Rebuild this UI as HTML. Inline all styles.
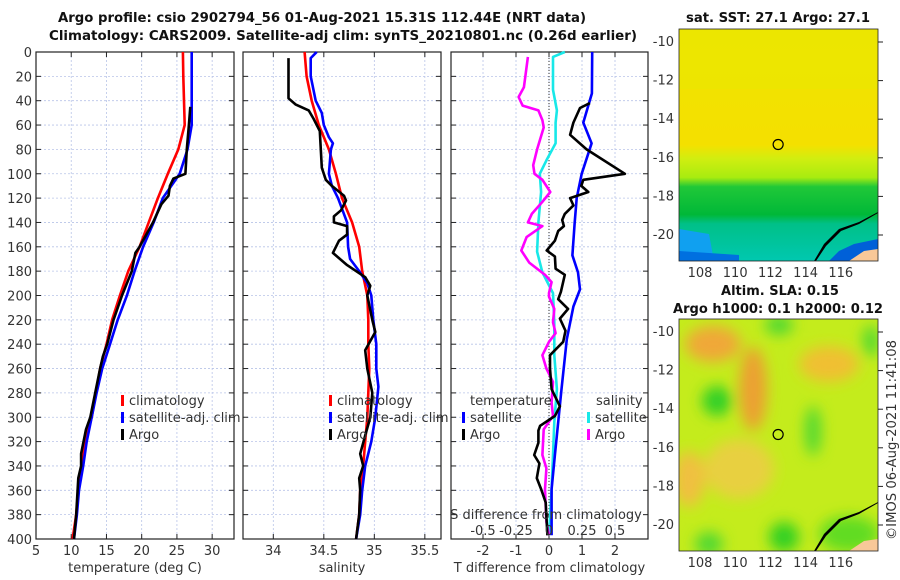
<!DOCTYPE html>
<html><head><meta charset="utf-8"><style>
body{margin:0;background:#fff;}
svg{display:block;font-family:"DejaVu Sans","Liberation Sans",sans-serif;}
.t{font-size:13px;font-weight:bold;fill:#111;text-anchor:middle}
.tk{font-size:13px;fill:#333}
</style></head><body>
<svg id="c" width="900" height="580" viewBox="0 0 900 580">
<text class="t" x="322" y="22" textLength="528" lengthAdjust="spacingAndGlyphs">Argo profile: csio 2902794_56 01-Aug-2021 15.31S 112.44E (NRT data)</text>
<text class="t" x="343" y="40" textLength="588" lengthAdjust="spacingAndGlyphs">Climatology: CARS2009. Satellite-adj clim: synTS_20210801.nc (0.26d earlier)</text>
<g id="maps">
<text class="t" x="778" y="22" textLength="184" lengthAdjust="spacingAndGlyphs">sat. SST: 27.1 Argo: 27.1</text>
<svg x="679" y="29" width="199" height="232">
<defs><linearGradient id="sg" x1="0" y1="0" x2="0" y2="1">
<stop offset="0" stop-color="#f0e400"/><stop offset="0.5" stop-color="#f4e000"/><stop offset="0.56" stop-color="#d0ee10"/><stop offset="0.64" stop-color="#a8ec10"/><stop offset="0.68" stop-color="#20c838"/><stop offset="0.8" stop-color="#00b838"/><stop offset="0.84" stop-color="#00c088"/><stop offset="1" stop-color="#00c8b0"/></linearGradient></defs>
<rect width="199" height="232" fill="url(#sg)"/>
<rect x="0" y="0" width="199" height="60" fill="#e4ea00" opacity="0.35"/>
<path d="M0,200 L30,205 L35,232 L0,232Z" fill="#10a0f0"/>
<path d="M0,222 L60,226 L60,232 L0,232Z" fill="#0070e0"/>
<path d="M150,232 L160,222 L175,215 L199,210 L199,232Z" fill="#0060d8"/>
<path d="M135,232 L145,215 L160,200 L180,193 L199,183 L199,184 L180,195 L162,202 L147,217 L137,232Z" fill="#000"/>
<path d="M170,232 L185,222 L199,220 L199,232Z" fill="#f8c898"/>
</svg>
<text class="t" x="780" y="295">Altim. SLA: 0.15</text>
<text class="t" x="778" y="313" textLength="210" lengthAdjust="spacingAndGlyphs">Argo h1000: 0.1 h2000: 0.12</text>
<svg x="679" y="319" width="199" height="232">
<defs><filter id="bl"><feGaussianBlur stdDeviation="7"/></filter></defs>
<rect width="199" height="232" fill="#c4ec1c"/>
<g filter="url(#bl)">
<ellipse cx="34" cy="25" rx="28" ry="18" fill="#f0a838"/>
<ellipse cx="74" cy="70" rx="14" ry="42" fill="#eca030"/>
<ellipse cx="150" cy="45" rx="30" ry="18" fill="#f0c030"/>
<ellipse cx="10" cy="160" rx="16" ry="28" fill="#f0c040"/>
<ellipse cx="60" cy="150" rx="35" ry="30" fill="#e8d040"/>
<ellipse cx="38" cy="82" rx="15" ry="15" fill="#30d028"/>
<ellipse cx="134" cy="112" rx="8" ry="25" fill="#50d830"/>
<ellipse cx="105" cy="218" rx="15" ry="15" fill="#30d020"/>
<ellipse cx="100" cy="6" rx="14" ry="10" fill="#50d830"/>
<ellipse cx="192" cy="22" rx="8" ry="16" fill="#50d830"/>
<ellipse cx="30" cy="225" rx="14" ry="12" fill="#50d830"/>
<ellipse cx="170" cy="215" rx="30" ry="18" fill="#60dc20"/>
</g>
<path d="M135,232 L145,215 L160,200 L180,193 L199,183 L199,184 L180,195 L162,202 L147,217 L137,232Z" fill="#000"/>
<path d="M170,232 L185,222 L199,220 L199,232Z" fill="#f8c898"/>
</svg>
<text class="tk" font-size="13" transform="translate(896,540) rotate(-90)" textLength="200" lengthAdjust="spacingAndGlyphs">©IMOS 06-Aug-2021 11:41:08</text>
</g>
</svg>
<script>
const depths=[0,20,40,60,80,100,120,140,160,180,200,220,240,260,280,300,320,340,360,380,400];
const tClim=[25.85,25.9,26.0,26.1,25.2,23.7,22.3,21.0,19.7,18.1,16.9,15.8,15.0,14.1,13.5,12.9,11.9,11.5,11.0,10.7,10.2];
const tSat=[27.1,27.1,27.1,27.1,26.5,25.4,23.0,21.7,20.2,19.0,17.9,16.6,15.5,14.4,13.6,12.9,12.2,11.7,11.1,10.8,10.4];
const argoTDepth=[45,60,80,100,104,110,118,125,140,160,165,180,200,220,240,250,260,280,300,310,330,340,350,380,400];
const argoT=[26.9,26.7,26.4,26.2,24.5,24.0,23.8,22.8,21.6,19.7,19.1,18.6,17.2,16.0,15.1,14.5,14.1,13.4,12.7,12.1,11.4,11.4,11.0,10.7,10.4];
const sClim=[34.31,34.33,34.38,34.45,34.55,34.62,34.68,34.78,34.85,34.88,34.93,34.94,34.94,34.95,34.94,34.93,34.91,34.89,34.86,34.85,34.82];
const sSatDepth=[0,5,20,40,50,60,70,75,80,100,110,120,140,160,170,180,190,200,220,240,260,275,300,320,340,360,380,400];
const sSat=[34.43,34.37,34.37,34.42,34.48,34.50,34.55,34.59,34.57,34.55,34.58,34.64,34.73,34.74,34.76,34.85,34.93,34.97,34.99,35.02,35.02,35.04,35.01,34.97,34.91,34.88,34.86,34.82];
const argoSDepth=[5,38,43,48,55,65,80,95,105,110,118,122,130,135,140,143,150,155,165,175,185,192,200,220,230,245,260,280,300,315,330,340,350,360,380,400];
const argoS=[34.15,34.15,34.22,34.35,34.40,34.46,34.47,34.48,34.52,34.58,34.70,34.72,34.67,34.60,34.60,34.73,34.73,34.65,34.59,34.73,34.91,34.96,34.93,34.98,35.01,34.91,34.93,34.98,34.96,34.91,34.86,34.89,34.85,34.86,34.85,34.82];
const dTSatDepth=[0,34,58,75,100,120,140,167,181,195,209,236,277,304,331,359,397];
const dTSat=[1.31,1.3,1.04,1.29,0.99,0.84,0.78,0.71,0.88,0.94,0.74,0.54,0.38,0.28,0.18,0.08,0.08];
const dTArgoDepth=[42,46,58,68,80,100,105,110,115,120,126,133,138,143,147,155,163,168,178,183,197,203,211,219,229,238,249,260,277,291,299,307,311,321,331,338,350,359,370,397];
const dTArgo=[1.24,0.94,0.74,0.64,1.14,2.30,1.04,0.98,1.19,0.64,0.74,0.48,0.4,0.45,0.28,0.18,-0.07,0.18,0.2,0.48,0.36,0.28,0.58,0.33,0.5,0.43,0.03,0.03,0.08,0.33,0.18,-0.27,-0.32,-0.32,-0.45,-0.29,-0.37,-0.24,-0.1,-0.05];
const dSSatDepth=[0,4,31,48,58,75,89,100,115,140,164,181,198,222,249,277,304,331,359,397];
const dSSat=[0.12,0.03,0.03,0.06,0.05,0.05,-0.02,-0.07,-0.06,-0.08,-0.09,-0.05,0.03,0.04,0.04,0.06,0.04,0.03,0.02,0.0];
const dSArgoDepth=[4,29,37,44,48,56,62,80,93,100,105,115,123,133,140,143,152,163,173,183,189,198,201,211,222,231,238,249,260,271,288,299,310,331,342,359,386,397];
const dSArgo=[-0.16,-0.19,-0.23,-0.2,-0.08,-0.05,-0.04,-0.09,-0.12,-0.11,-0.05,0.01,-0.05,-0.13,-0.16,-0.05,-0.17,-0.21,-0.15,-0.03,0.02,0.0,0.0,0.04,0.03,0.05,0.0,-0.05,-0.02,0.03,0.02,0.03,-0.04,-0.05,-0.02,-0.03,-0.02,0.0];
const tTicks=[5,10,15,20,25,30];
const sTicks=[34,34.5,35,35.5];
const dTicks=[-2,-1,0,1,2];
const dsTicks=[-0.5,-0.25,0,0.25,0.5];
const dsTickLabels=["-0.5","-0.25","0","0.25","0.5"];
const depthTicks=[0,20,40,60,80,100,120,140,160,180,200,220,240,260,280,300,320,340,360,380,400];

const NS='http://www.w3.org/2000/svg', svg=document.getElementById('c');
function mk(tag,attrs,parent){const e=document.createElementNS(NS,tag);for(const k in attrs)e.setAttribute(k,attrs[k]);(parent||svg).appendChild(e);return e;}
const Y0=52,Y1=539;
const yD=d=>Y0+(Y1-Y0)*d/400;
function panel(name,x0,x1,vmin,vmax,ticks,labels,xlabel){
  const g=mk('g',{});
  
  
  const sx=v=>x0+(x1-x0)*(v-vmin)/(vmax-vmin);
  depthTicks.forEach(d=>{const l=mk('line',{x1:x0,x2:x1,y1:yD(d),y2:yD(d),stroke:'#b8c4e8','stroke-width':0.8,'stroke-dasharray':'2,2'},g);
    
    mk('line',{x1:x0,x2:x0+5,y1:yD(d),y2:yD(d),stroke:'#222'},g);mk('line',{x1:x1-5,x2:x1,y1:yD(d),y2:yD(d),stroke:'#222'},g);});
  ticks.forEach((v,i)=>{const X=sx(v);const l=mk('line',{x1:X,x2:X,y1:Y0,y2:Y1,stroke:'#b8c4e8','stroke-width':0.8,'stroke-dasharray':'2,2'},g);
    
    mk('line',{x1:X,x2:X,y1:Y1,y2:Y1-5,stroke:'#222'},g);mk('line',{x1:X,x2:X,y1:Y0,y2:Y0+5,stroke:'#222'},g);
    const t=mk('text',{x:X,y:Y1+16,class:'tk','text-anchor':'middle'},g);t.textContent=labels[i];
    });
  const r=mk('rect',{x:x0,y:Y0,width:x1-x0,height:Y1-Y0,fill:'none',stroke:'#222','stroke-width':1.2},g);
  
  const xl=mk('text',{x:(x0+x1)/2,y:572,class:'tk','text-anchor':'middle','font-size':14},g);xl.textContent=xlabel;
  
  return {g,sx};
}
function line(p,ds,vs,color,name,map){
  const pts=ds.map((d,i)=>(map?map(vs[i]):p.sx(vs[i])).toFixed(1)+','+yD(d).toFixed(1)).join(' ');
  const e=mk('polyline',{points:pts,fill:'none',stroke:color,'stroke-width':2.6,'stroke-linejoin':'round'},p.g);
  
}
function leg(x,y,color,label,name){
  const r=mk('rect',{x:x,y:y-10,width:3,height:11,fill:color});
  
  const t=mk('text',{x:x+8,y:y,class:'tk','font-size':14,fill:'#111'});t.textContent=label;
  
}
depthTicks.forEach(d=>{const t=mk('text',{x:32,y:yD(d)+5,class:'tk','text-anchor':'end'});t.textContent=d;
  });
const p1=panel('temperature-panel',36,234,5,33.1,tTicks,tTicks.map(String),'temperature (deg C)');
line(p1,depths,tClim,'#f00','temp-climatology-line');
line(p1,depths,tSat,'#00f','temp-satellite-line');
line(p1,argoTDepth,argoT,'#000','temp-argo-line');
leg(121,405,'#f00','climatology','legend-climatology');leg(121,422,'#00f','satellite-adj. clim','legend-satellite');leg(121,439,'#000','Argo','legend-argo');
const p2=panel('salinity-panel',243,441,33.70,35.66,sTicks,['34','34.5','35','35.5'],'salinity');
line(p2,depths,sClim,'#f00','sal-climatology-line');
line(p2,sSatDepth,sSat,'#00f','sal-satellite-line');
line(p2,argoSDepth,argoS,'#000','sal-argo-line');
leg(329,405,'#f00','climatology','legend-climatology-2');leg(329,422,'#00f','satellite-adj. clim','legend-satellite-2');leg(329,439,'#000','Argo','legend-argo-2');
const p3=panel('difference-panel',451,648,-2.97,3.0,dTicks,dTicks.map(String),'T difference from climatology');
const zl=mk('line',{x1:p3.sx(0),x2:p3.sx(0),y1:Y0,y2:Y1,stroke:'#333','stroke-dasharray':'1,2'},p3.g);

const sMap=v=>p3.sx(v*4);
line(p3,dSSatDepth,dSSat,'#18e8e8','sal-diff-satellite-line',sMap);
line(p3,dSArgoDepth,dSArgo,'#f0f','sal-diff-argo-line',sMap);
line(p3,dTSatDepth,dTSat,'#00f','temp-diff-satellite-line');
line(p3,dTArgoDepth,dTArgo,'#000','temp-diff-argo-line');
[['temperature',470,405],['salinity',596,405]].forEach(a=>{const t=mk('text',{x:a[1],y:a[2],class:'tk','font-size':14,fill:'#111'});t.textContent=a[0];
  });
leg(462,422,'#00f','satellite','legend-t-satellite');leg(462,439,'#000','Argo','legend-t-argo');
leg(587,422,'#18e8e8','satellite','legend-s-satellite');leg(587,439,'#f0f','Argo','legend-s-argo');
const st=mk('text',{x:546,y:519,class:'tk','text-anchor':'middle','font-size':14,fill:'#111'});st.textContent='S difference from climatology';

dsTicks.forEach((v,i)=>{const t=mk('text',{x:sMap(v),y:535,class:'tk','text-anchor':'middle',fill:'#111'});t.textContent=dsTickLabels[i];
  });
const lonTicks=[108,110,112,114,116], latTicks=[-10,-12,-14,-16,-18,-20];
[[29,261,42],[319,551,332]].forEach((m,k)=>{
  const fr=mk('rect',{x:679,y:m[0],width:199,height:232,fill:'none',stroke:'#222','stroke-width':0.8});
  
  latTicks.forEach(l=>{const y=m[2]+(-10-l)*19.3;
    const t=mk('text',{x:674,y:y+4,class:'tk','text-anchor':'end'});t.textContent=l;
    
    mk('line',{x1:878,x2:883,y1:y,y2:y,stroke:'#222'});});
  lonTicks.forEach(l=>{const x=700+(l-108)*17.6;
    const t=mk('text',{x:x,y:m[1]+16,class:'tk','text-anchor':'middle'});t.textContent=l;
    });
  const c=mk('circle',{cx:700+(112.44-108)*17.6,cy:m[2]+5.31*19.3,r:5,fill:'none',stroke:'#000','stroke-width':1.2});
  
});
</script>
</body></html>
